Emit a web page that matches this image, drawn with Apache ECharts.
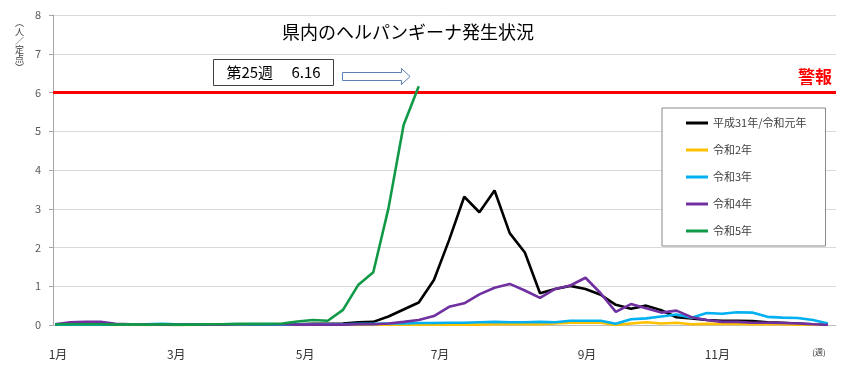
<!DOCTYPE html>
<html>
<head>
<meta charset="utf-8">
<script src="https://cdn.jsdelivr.net/npm/echarts@6/dist/echarts.min.js"></script>
<style>html,body{margin:0;padding:0;background:#fff;}#c{width:858px;height:371px;}</style>
</head>
<body>
<div id="c"></div>
<script>
const weeks = [1,2,3,4,5,6,7,8,9,10,11,12,13,14,15,16,17,18,19,20,21,22,23,24,25,26,27,28,29,30,31,32,33,34,35,36,37,38,39,40,41,42,43,44,45,46,47,48,49,50,51,52];
const seriesNames = ['平成31年/令和元年','令和2年','令和3年','令和4年','令和5年'];
const r1 = [0.01,0.01,0.01,0.01,0.01,0.01,0.01,0.01,0.00,0.01,0.01,0.01,0.01,0.02,0.02,0.02,0.02,0.03,0.03,0.04,0.07,0.08,0.22,0.40,0.58,1.16,2.19,3.31,2.91,3.47,2.37,1.87,0.82,0.93,1.01,0.93,0.78,0.52,0.42,0.50,0.38,0.20,0.17,0.13,0.11,0.11,0.10,0.07,0.06,0.04,0.02,0.01];
const r2 = [0.00,0.00,0.01,0.00,0.00,0.00,0.01,0.00,0.00,0.00,0.01,0.00,0.00,0.00,0.00,0.00,0.00,0.00,0.00,0.01,0.00,0.00,0.01,0.01,0.01,0.01,0.01,0.01,0.01,0.02,0.02,0.02,0.02,0.04,0.06,0.06,0.06,0.00,0.04,0.07,0.04,0.06,0.02,0.03,0.03,0.03,0.02,0.02,0.02,0.01,0.01,0.00];
const r3 = [0.01,0.01,0.01,0.01,0.01,0.02,0.02,0.03,0.02,0.01,0.01,0.01,0.02,0.01,0.01,0.01,0.01,0.01,0.02,0.02,0.03,0.03,0.04,0.04,0.05,0.05,0.06,0.06,0.07,0.08,0.07,0.07,0.08,0.07,0.11,0.11,0.11,0.03,0.15,0.17,0.22,0.27,0.19,0.31,0.29,0.33,0.32,0.21,0.19,0.18,0.13,0.04];
const r4 = [0.02,0.07,0.08,0.08,0.03,0.02,0.02,0.01,0.01,0.01,0.01,0.01,0.02,0.02,0.02,0.02,0.01,0.01,0.01,0.01,0.02,0.02,0.04,0.08,0.13,0.23,0.47,0.56,0.79,0.96,1.06,0.89,0.70,0.93,1.02,1.22,0.82,0.34,0.54,0.43,0.32,0.37,0.20,0.13,0.08,0.08,0.06,0.06,0.05,0.04,0.02,0.00];
const r5 = [0.02,0.02,0.02,0.02,0.01,0.02,0.01,0.02,0.01,0.01,0.02,0.02,0.03,0.03,0.03,0.04,0.09,0.13,0.11,0.39,1.03,1.36,3.01,5.16,6.16];
const seriesColors = ['#000000','#ffc000','#00b0f0','#7030a0','#109a48'];
const alertLevel = 6;
const alertLabel = '警報';
const monthTickWeeks = [1.2, 9, 17.5, 26.4, 36.1, 44.7];
const monthLabels = ['1月','3月','5月','7月','9月','11月'];
const weekUnitPos = 51.4;
const weekUnitLabel = '(週)';
const yTicks = [0,1,2,3,4,5,6,7,8];
const titleText = '県内のヘルパンギーナ発生状況';
const noteText = '第25週　 6.16';
const yUnitText = '︵\n人\n／\n定\n点\n︶';

const allValues = [r1, r2, r3, r4, r5];
const FONT = '"Noto Sans CJK JP","Noto Sans",sans-serif';

const labelMap = {};
monthTickWeeks.forEach((w, i) => { labelMap[w] = monthLabels[i]; });
labelMap[weekUnitPos] = weekUnitLabel;

const series = seriesNames.map((name, i) => {
  const s = {
    name: name,
    type: 'line',
    data: allValues[i].map((v, k) => [weeks[k], v]),
    symbol: 'none',
    smooth: false,
    lineStyle: { width: 2.6, color: seriesColors[i] },
    itemStyle: { color: seriesColors[i] },
    z: 3 + i
  };
  if (i === 0) {
    s.markLine = {
      silent: true,
      symbol: 'none',
      lineStyle: { color: '#ff0000', width: 3, type: 'solid' },
      label: {
        formatter: alertLabel,
        position: 'insideEndTop',
        color: '#ff0000',
        fontSize: 17,
        fontWeight: 'bold',
        fontFamily: FONT,
        distance: [4, 7]
      },
      data: [{ yAxis: alertLevel }]
    };
  }
  return s;
});

const chart = echarts.init(document.getElementById('c'), null, { renderer: 'canvas' });
chart.setOption({
  animation: false,
  backgroundColor: '#ffffff',
  textStyle: { fontFamily: FONT },
  title: {
    text: titleText,
    left: 282,
    top: 23,
    padding: 0,
    textStyle: { fontSize: 18, fontWeight: 'normal', color: '#000', fontFamily: FONT }
  },
  grid: { left: 53, right: 22, top: 15, bottom: 46, containLabel: false },
  xAxis: {
    type: 'value',
    min: 0.868,
    max: 52.528,
    axisLine: { show: true, lineStyle: { color: '#bfbfbf', width: 1 } },
    axisTick: { show: false },
    splitLine: { show: false },
    axisLabel: {
      customValues: monthTickWeeks.concat([weekUnitPos]),
      margin: 23,
      color: '#333',
      fontSize: 12,
      fontFamily: FONT,
      formatter: function (v) {
        const t = labelMap[v];
        if (t === weekUnitLabel) return '{u|' + t + '}';
        return t || '';
      },
      rich: { u: { fontSize: 8, color: '#333', padding: [0, 0, 4, 0] } }
    }
  },
  yAxis: {
    type: 'value',
    min: yTicks[0],
    max: yTicks[yTicks.length - 1],
    interval: 1,
    axisLine: { show: true, lineStyle: { color: '#a6a6a6', width: 1 } },
    axisTick: { show: true, length: 4, lineStyle: { color: '#a6a6a6' } },
    splitLine: { show: true, lineStyle: { color: '#d9d9d9', width: 1 } },
    axisLabel: { color: '#595959', fontSize: 11, margin: 12, fontFamily: FONT }
  },
  legend: {
    orient: 'vertical',
    left: 662,
    top: 108,
    padding: [8, 19, 8, 24],
    itemGap: 13,
    itemWidth: 22,
    itemHeight: 3,
    icon: 'rect',
    backgroundColor: '#ffffff',
    borderColor: '#888888',
    borderWidth: 1,
    borderRadius: 0,
    textStyle: { fontSize: 11, color: '#404040', lineHeight: 14, fontFamily: FONT },
    data: seriesNames
  },
  graphic: [
    {
      type: 'text',
      left: 15,
      top: 18,
      style: { text: yUnitText, fontSize: 9, lineHeight: 9, fill: '#404040', fontFamily: FONT, align: 'center' }
    },
    {
      type: 'group',
      left: 213,
      top: 59,
      children: [
        { type: 'rect', shape: { x: 0, y: 0, width: 120, height: 26 }, style: { fill: '#ffffff', stroke: '#404040', lineWidth: 1 } },
        { type: 'text', x: 60, y: 13, style: { text: noteText, fill: '#000', fontSize: 15, fontFamily: FONT, align: 'center', verticalAlign: 'middle' } }
      ]
    },
    {
      type: 'polygon',
      shape: { points: [[342.5,72.5],[401.5,72.5],[401.5,68.5],[410,76.5],[401.5,84.5],[401.5,80.5],[342.5,80.5]] },
      style: { fill: '#ffffff', stroke: '#5b80b5', lineWidth: 1 }
    }
  ],
  series: series
});
</script>
</body>
</html>
